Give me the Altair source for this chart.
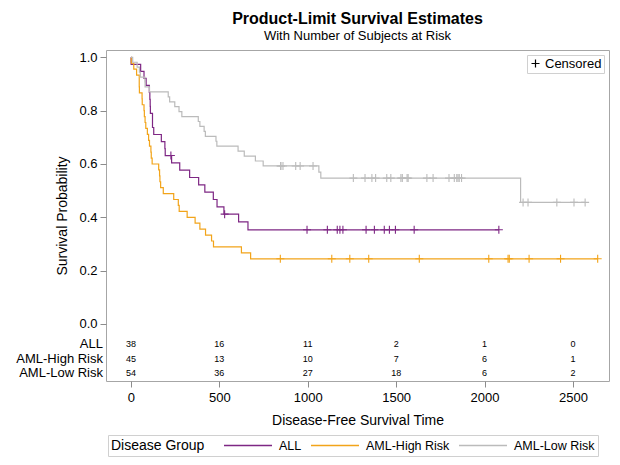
import altair as alt
import pandas as pd

# ---------------- data ----------------
groups = ["ALL", "AML-High Risk", "AML-Low Risk"]
colors = ["#7E2784", "#F2A41A", "#BBBBBB"]

# Kaplan-Meier steps: time of each drop and survival after it
all_event_t = [1, 55, 74, 86, 104, 107, 109, 110, 122, 129, 172, 192, 194,
               230, 276, 332, 383, 418, 466, 487, 526, 609, 662]
all_event_s = [0.9737, 0.9474, 0.9211, 0.8947, 0.8684, 0.8421, 0.8158, 0.7895,
               0.7368, 0.7105, 0.6842, 0.6579, 0.6316, 0.6041, 0.5767, 0.5492,
               0.5217, 0.4943, 0.4668, 0.4394, 0.4119, 0.3825, 0.3531]
all_cens_t = [226, 530, 996, 1111, 1167, 1182, 1199, 1330, 1377, 1433, 1462,
              1496, 1602, 2081]
all_cens_s = [0.6316, 0.4119, 0.3531, 0.3531, 0.3531, 0.3531, 0.3531, 0.3531,
              0.3531, 0.3531, 0.3531, 0.3531, 0.3531, 0.3531]

high_event_t = [2, 16, 32, 47, 48, 63, 64, 74, 76, 80, 84, 93, 100, 105, 113,
                115, 120, 157, 162, 164, 168, 183, 242, 268, 273, 318, 363,
                390, 422, 456, 467, 625, 677]
high_event_s = [0.9778, 0.9556, 0.9333, 0.8889, 0.8667, 0.8444, 0.8222, 0.8000,
                0.7778, 0.7556, 0.7333, 0.7111, 0.6889, 0.6667, 0.6444, 0.6222,
                0.6000, 0.5778, 0.5556, 0.5333, 0.5111, 0.4889, 0.4667, 0.4444,
                0.4222, 0.4000, 0.3778, 0.3556, 0.3333, 0.3111, 0.2889, 0.2667,
                0.2444]
high_cens_t = [845, 1136, 1238, 1345, 1631, 2024, 2133, 2140, 2252, 2430, 2640]
high_cens_s = [0.2444, 0.2444, 0.2444, 0.2444, 0.2444, 0.2444, 0.2444, 0.2444,
               0.2444, 0.2444, 0.2444]

low_event_t = [10, 35, 48, 53, 79, 80, 105, 211, 219, 248, 272, 288, 381, 390,
               414, 421, 481, 486, 606, 641, 704, 748, 1063, 1074, 2204]
low_event_s = [0.9815, 0.9630, 0.9444, 0.9259, 0.9074, 0.8889, 0.8704, 0.8519,
               0.8333, 0.8148, 0.7963, 0.7778, 0.7593, 0.7407, 0.7222, 0.7037,
               0.6852, 0.6667, 0.6481, 0.6296, 0.6111, 0.5926, 0.5698, 0.5470,
               0.4558]
low_cens_t = [847, 848, 860, 932, 957, 1030, 1258, 1324, 1363, 1384, 1447, 1470,
              1527, 1535, 1562, 1568, 1674, 1709, 1799, 1829, 1843, 1850, 1857,
              1870, 2218, 2246, 2409, 2506, 2569]
low_cens_s = [0.5926, 0.5926, 0.5926, 0.5926, 0.5926, 0.5926, 0.5470, 0.5470,
              0.5470, 0.5470, 0.5470, 0.5470, 0.5470, 0.5470, 0.5470, 0.5470,
              0.5470, 0.5470, 0.5470, 0.5470, 0.5470, 0.5470, 0.5470, 0.5470,
              0.4558, 0.4558, 0.4558, 0.4558, 0.4558]

# number of subjects at risk
risk_times = [0, 500, 1000, 1500, 2000, 2500]
risk_all = [38, 16, 11, 2, 1, 0]
risk_high = [45, 13, 10, 7, 6, 1]
risk_low = [54, 36, 27, 18, 6, 2]

y_ticks = [0.0, 0.2, 0.4, 0.6, 0.8, 1.0]

# ---------------- layout constants ----------------
X_DOMAIN = [-141, 2704]
Y_DOMAIN = [-0.214, 1.0275]
RISK_ROW_Y = [-0.0744, -0.1307, -0.1852]
PLUS = "M-1,0H1M0,-1V1"
FONT = "Liberation Sans"

# ---------------- tables ----------------
series = [
    (groups[0], all_event_t, all_event_s, all_cens_t, all_cens_s, risk_all),
    (groups[1], high_event_t, high_event_s, high_cens_t, high_cens_s, risk_high),
    (groups[2], low_event_t, low_event_s, low_cens_t, low_cens_s, risk_low),
]

step_rows, cens_rows, risk_rows, label_rows = [], [], [], []
for i, (g, et, es, ct, cs, rk) in enumerate(series):
    step_rows.append({"group": g, "time": 0, "surv": 1.0})
    for t, s in zip(et, es):
        step_rows.append({"group": g, "time": t, "surv": s})
    step_rows.append({"group": g, "time": max(ct), "surv": es[-1]})
    for t, s in zip(ct, cs):
        cens_rows.append({"group": g, "time": t, "surv": s, "cens": "Censored"})
    for t, n in zip(risk_times, rk):
        risk_rows.append({"group": g, "time": t, "n": n, "row_y": RISK_ROW_Y[i]})
    label_rows.append({"group": g, "row_y": RISK_ROW_Y[i]})

steps = pd.DataFrame(step_rows)
cens = pd.DataFrame(cens_rows)
risk = pd.DataFrame(risk_rows)
labels = pd.DataFrame(label_rows)

xscale = alt.Scale(domain=X_DOMAIN, nice=False, zero=False)
yscale = alt.Scale(domain=Y_DOMAIN, nice=False, zero=False)
cscale = alt.Scale(domain=groups, range=colors)

x_axis = alt.Axis(values=risk_times, format="d", grid=False, domain=False,
                  tickColor="#8c8c8c", tickSize=6, labelFontSize=13,
                  labelColor="black", labelPadding=4,
                  title="Disease-Free Survival Time", titleFontSize=14,
                  titleFontWeight="normal", titleColor="black", titlePadding=9)
y_axis = alt.Axis(values=y_ticks, format=".1f", grid=False, domain=False,
                  tickColor="#8c8c8c", tickSize=6, labelFontSize=13,
                  labelColor="black", labelPadding=3, title="Survival Probability",
                  titleFontSize=14, titleFontWeight="normal", titleColor="black",
                  titlePadding=9)

color_legend = alt.Legend(
    title="Disease Group", orient="none", legendX=2, legendY=385,
    direction="horizontal", titleOrient="left", titleFontSize=14,
    titleFontWeight="normal", titleColor="black", titlePadding=18,
    labelFontSize=12.5, labelColor="black", labelOffset=6,
    symbolType="stroke", symbolSize=2304, symbolStrokeWidth=1.5,
    clipHeight=15, columnPadding=8, strokeColor="#d0d0d0", fillColor="white",
    padding=3,
)

lines = alt.Chart(steps).mark_line(interpolate="step-after", strokeWidth=1.2).encode(
    x=alt.X("time:Q", scale=xscale, axis=x_axis),
    y=alt.Y("surv:Q", scale=yscale, axis=y_axis),
    color=alt.Color("group:N", scale=cscale, legend=color_legend),
)

points = alt.Chart(cens).mark_point(filled=False, size=64, strokeWidth=1.1, opacity=1).encode(
    x="time:Q",
    y="surv:Q",
    color=alt.Color("group:N", scale=cscale, legend=color_legend),
    shape=alt.Shape("cens:N", scale=alt.Scale(domain=["Censored"], range=[PLUS]),
                    legend=alt.Legend(title=None, orient="top-right", offset=5,
                                      padding=2, strokeColor="#d0d0d0",
                                      fillColor="white", labelFontSize=13,
                                      labelColor="black", labelOffset=3,
                                      symbolStrokeColor="black",
                                      symbolStrokeWidth=1.2, symbolSize=64)),
)

risk_text = alt.Chart(risk).mark_text(fontSize=9, color="black", baseline="middle").encode(
    x="time:Q",
    y="row_y:Q",
    text="n:Q",
)

row_labels = alt.Chart(labels).mark_text(fontSize=13, color="black", align="right",
                                          baseline="middle").encode(
    x=alt.value(-3),
    y="row_y:Q",
    text="group:N",
)

chart = alt.layer(lines, points, risk_text, row_labels).properties(
    width=503,
    height=331,
    padding={"left": 98, "top": 42, "right": 3, "bottom": 76},
    autosize=alt.AutoSizeParams(type="none"),
    title=alt.TitleParams(
        text="Product-Limit Survival Estimates",
        subtitle="With Number of Subjects at Risk",
        fontSize=16, fontWeight="bold", subtitleFontSize=13,
        font=FONT, subtitleFont=FONT, color="black", subtitleColor="black",
        anchor="middle", frame="group", offset=7, subtitlePadding=3,
    ),
).configure(font=FONT).configure_view(stroke="#a6a6a6", strokeWidth=1)

chart.save("out.html", embed_options={"renderer": "svg", "actions": False})
